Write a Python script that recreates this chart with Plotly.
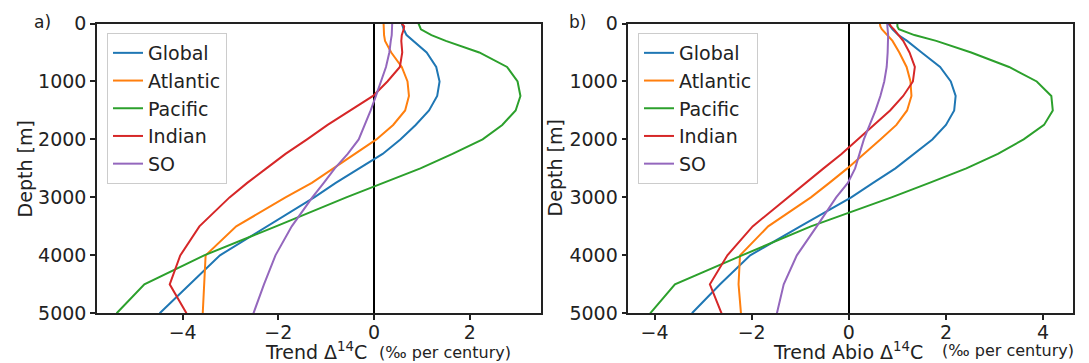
import plotly.graph_objects as go

# Depth levels [m]
depth = [0, 50, 100, 200, 300, 500, 750, 1000, 1250, 1500, 1750, 2000,
         2250, 2500, 2750, 3000, 3500, 4000, 4500, 5000]

names = ["Global", "Atlantic", "Pacific", "Indian", "SO"]
colors = ["#1f77b4", "#ff7f0e", "#2ca02c", "#d62728", "#9467bd"]

# Panel a) Trend Delta14C (permil per century)
a_global = [0.58, 0.60, 0.62, 0.68, 0.82, 1.10, 1.30, 1.37, 1.32, 1.15, 0.87, 0.55,
            0.18, -0.30, -0.80, -1.25, -2.25, -3.22, -3.85, -4.48]
a_atlantic = [0.20, 0.20, 0.20, 0.21, 0.23, 0.36, 0.58, 0.70, 0.73, 0.65, 0.40, 0.05,
              -0.40, -0.85, -1.30, -1.85, -2.88, -3.52, -3.55, -3.58]
a_pacific = [0.93, 0.95, 0.98, 1.20, 1.50, 2.20, 2.78, 3.00, 3.06, 2.96, 2.68, 2.27,
             1.64, 0.97, 0.20, -0.58, -2.05, -3.55, -4.80, -5.38]
a_indian = [0.58, 0.63, 0.62, 0.58, 0.57, 0.59, 0.54, 0.28, -0.02, -0.50, -0.97, -1.40,
            -1.85, -2.25, -2.65, -3.02, -3.65, -4.05, -4.27, -3.92]
a_so = [0.38, 0.38, 0.38, 0.37, 0.35, 0.32, 0.25, 0.15, 0.04, -0.07, -0.19, -0.32,
        -0.55, -0.82, -1.05, -1.29, -1.72, -2.06, -2.30, -2.52]

# Panel b) Trend Abio Delta14C (permil per century)
b_global = [0.81, 0.85, 0.90, 1.02, 1.20, 1.50, 1.88, 2.10, 2.20, 2.17, 2.00, 1.72,
            1.35, 0.96, 0.50, 0.05, -1.00, -2.03, -2.65, -3.23]
b_atlantic = [0.64, 0.65, 0.68, 0.78, 0.90, 1.04, 1.19, 1.27, 1.29, 1.20, 0.98, 0.65,
              0.32, -0.03, -0.40, -0.78, -1.66, -2.24, -2.27, -2.22]
b_pacific = [1.00, 1.00, 1.03, 1.35, 1.80, 2.52, 3.30, 3.87, 4.17, 4.20, 4.02, 3.60,
             3.07, 2.42, 1.66, 0.88, -0.78, -2.20, -3.58, -4.09]
b_indian = [0.83, 0.87, 0.93, 1.02, 1.12, 1.25, 1.36, 1.32, 1.12, 0.85, 0.52, 0.17,
            -0.15, -0.52, -0.88, -1.26, -1.98, -2.50, -2.86, -2.62]
b_so = [0.79, 0.80, 0.80, 0.81, 0.81, 0.80, 0.78, 0.73, 0.65, 0.55, 0.43, 0.31,
        0.22, 0.13, -0.02, -0.26, -0.66, -1.07, -1.34, -1.48]

panel_a = [a_global, a_atlantic, a_pacific, a_indian, a_so]
panel_b = [b_global, b_atlantic, b_pacific, b_indian, b_so]

xticks_a = [-4, -2, 0, 2]
xticks_b = [-4, -2, 0, 2, 4]
yticks = [0, 1000, 2000, 3000, 4000, 5000]

W, H = 1089, 363
FONT = "DejaVu Sans"

fig = go.Figure()
for name, col, vals in zip(names, colors, panel_a):
    fig.add_trace(go.Scatter(x=vals, y=depth, mode="lines", name=name,
                             line=dict(color=col, width=2),
                             xaxis="x", yaxis="y", legend="legend"))
for name, col, vals in zip(names, colors, panel_b):
    fig.add_trace(go.Scatter(x=vals, y=depth, mode="lines", name=name,
                             line=dict(color=col, width=2),
                             xaxis="x2", yaxis="y2", legend="legend2"))

def px_x(p):
    return p / W

def px_y(p):
    return 1 - p / H

ydom = [px_y(313.3), px_y(23.5)]

axis_common = dict(showline=True, linecolor="#222", linewidth=1.5, mirror=True,
                   ticks="outside", ticklen=5, tickwidth=1.5, tickcolor="#222",
                   showgrid=False, automargin=False,
                   tickfont=dict(family=FONT, size=19, color="#222"))

fig.update_layout(
    width=W, height=H, template="none",
    paper_bgcolor="white", plot_bgcolor="white",
    margin=dict(l=0, r=0, t=0, b=0),
    xaxis=dict(domain=[px_x(97), px_x(541)], range=[-5.79, 3.49], tickvals=xticks_a,
               zeroline=True, zerolinecolor="black", zerolinewidth=2,
               ticklabelstandoff=-4, anchor="y", **axis_common),
    yaxis=dict(domain=ydom, range=[5000, 0], tickvals=yticks, zeroline=False,
               anchor="x", **axis_common),
    xaxis2=dict(domain=[px_x(628.3), px_x(1072.7)], range=[-4.54, 4.61], tickvals=xticks_b,
                zeroline=True, zerolinecolor="black", zerolinewidth=2,
                ticklabelstandoff=-4, anchor="y2", **axis_common),
    yaxis2=dict(domain=ydom, range=[5000, 0], tickvals=yticks, zeroline=False,
                anchor="x2", **axis_common),
    legend=dict(x=px_x(107), y=px_y(33), xanchor="left", yanchor="top",
                font=dict(family=FONT, size=19, color="#222"),
                bgcolor="rgba(255,255,255,0.8)", bordercolor="#cccccc", borderwidth=1),
    legend2=dict(x=px_x(638), y=px_y(33), xanchor="left", yanchor="top",
                 font=dict(family=FONT, size=19, color="#222"),
                 bgcolor="rgba(255,255,255,0.8)", bordercolor="#cccccc", borderwidth=1),
    showlegend=True,
)

ann_font = dict(family=FONT, size=19, color="#222")
small_font = dict(family=FONT, size=16, color="#222")
annotations = [
    dict(text="Depth [m]", x=px_x(25), y=(ydom[0] + ydom[1]) / 2, textangle=-90,
         font=ann_font),
    dict(text="Depth [m]", x=px_x(555), y=(ydom[0] + ydom[1]) / 2, textangle=-90,
         font=ann_font),
    dict(text="Trend Δ<sup>14</sup>C", x=px_x(316), y=px_y(351), font=ann_font),
    dict(text="(‰ per century)", x=px_x(378), y=px_y(352), xanchor="left", font=small_font),
    dict(text="Trend Abio Δ<sup>14</sup>C", x=px_x(848), y=px_y(351), font=ann_font),
    dict(text="(‰ per century)", x=px_x(941), y=px_y(350), xanchor="left", font=small_font),
    dict(text="a)", x=px_x(42), y=px_y(22), font=dict(family=FONT, size=17, color="#222")),
    dict(text="b)", x=px_x(577), y=px_y(22), font=dict(family=FONT, size=17, color="#222")),
]
for a in annotations:
    a.setdefault("xanchor", "center")
    a.setdefault("yanchor", "middle")
    a.update(xref="paper", yref="paper", showarrow=False, borderpad=0)
fig.update_layout(annotations=annotations)

fig.write_html("out.html")
